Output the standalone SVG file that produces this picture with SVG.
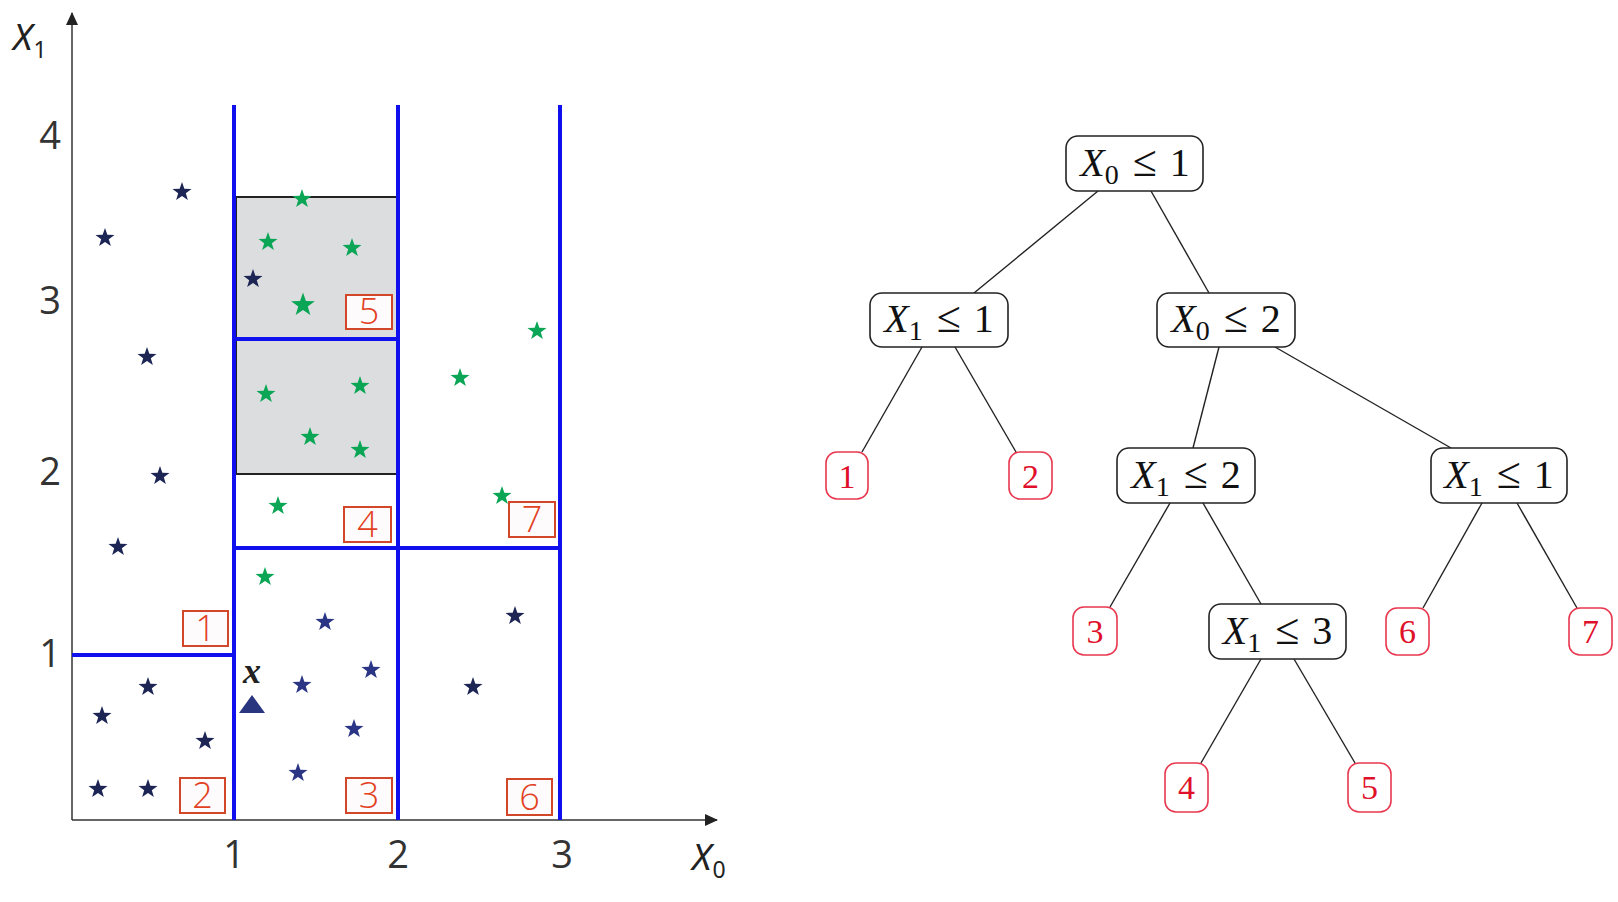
<svg xmlns="http://www.w3.org/2000/svg" xmlns:xlink="http://www.w3.org/1999/xlink" width="1618" height="902" viewBox="0 0 1618 902">
<style>
.axis{stroke:#333;stroke-width:1.5;fill:none}
.tick{font-family:"Open Sans","Noto Sans",sans-serif;font-size:38px;fill:#333;text-anchor:middle}
.alab{font-family:"Noto Sans","DejaVu Sans",sans-serif;fill:#222}
.split{stroke:#1010ee;stroke-width:4;fill:none}
.rbox{fill:#fdfbfb;stroke:#d2472a;stroke-width:2}
.rnum{font-family:"Open Sans","Noto Sans",sans-serif;font-weight:300;font-size:36px;fill:#e2401f;text-anchor:middle}
.navy{fill:#1c2554}
.navy2{fill:#2a3585}
.green{fill:#0aa656}
.inode{fill:#fff;stroke:#222;stroke-width:1.6}
.leaf{fill:#fff;stroke:#e8384f;stroke-width:1.6}
.itxt{font-family:"Liberation Serif","DejaVu Serif",serif;font-size:40px;fill:#111;text-anchor:middle}
.ltxt{font-family:"Liberation Serif","DejaVu Serif",serif;font-size:34px;fill:#e0102a;text-anchor:middle}
.edge{stroke:#222;stroke-width:1.4;fill:none}
</style>
<defs>
<path id="star" d="M0,-10 L2.35,-3.24 L9.51,-3.09 L3.80,1.24 L5.88,8.09 L0,4 L-5.88,8.09 L-3.80,1.24 L-9.51,-3.09 L-2.35,-3.24 Z"/>
<marker id="ah" markerWidth="14" markerHeight="12" refX="12" refY="6" orient="auto" markerUnits="userSpaceOnUse">
<path d="M0,0 L13,6 L0,12 Z" fill="#222"/>
</marker>
</defs>
<rect width="1618" height="902" fill="#fff"/>

<g id="plot">
<rect x="236" y="197" width="162" height="277" fill="#dcdddf" stroke="#222" stroke-width="2"/>
<line class="axis" x1="72" y1="820" x2="72" y2="13" marker-end="url(#ah)"/>
<line class="axis" x1="72" y1="820" x2="717" y2="820" marker-end="url(#ah)"/>
<g id="splits">
<line class="split" x1="234" y1="105" x2="234" y2="820"/>
<line class="split" x1="398" y1="105" x2="398" y2="820"/>
<line class="split" x1="560" y1="105" x2="560" y2="820"/>
<line class="split" x1="72" y1="655" x2="234" y2="655"/>
<line class="split" x1="234" y1="548" x2="560" y2="548"/>
<line class="split" x1="234" y1="339" x2="398" y2="339"/>
</g>
<g id="ticks">
<text class="tick" x="50" y="149">4</text>
<text class="tick" x="50" y="314">3</text>
<text class="tick" x="50" y="485">2</text>
<text class="tick" x="50" y="667">1</text>
<text class="tick" x="234" y="868">1</text>
<text class="tick" x="398" y="868">2</text>
<text class="tick" x="562" y="868">3</text>
</g>
<text class="alab" x="13" y="50" font-size="37" font-style="italic">X<tspan font-size="23" font-style="normal" dy="8" dx="1">1</tspan></text>
<text class="alab" x="692" y="870" font-size="37" font-style="italic">X<tspan font-size="23" font-style="normal" dy="8" dx="1">0</tspan></text>

<g id="stars">
<use href="#star" class="navy" x="182" y="192"/>
<use href="#star" class="navy" x="105" y="238"/>
<use href="#star" class="navy" x="147" y="357"/>
<use href="#star" class="navy" x="253" y="279"/>
<use href="#star" class="navy" x="160" y="476"/>
<use href="#star" class="navy" x="118" y="547"/>
<use href="#star" class="navy" x="148" y="687"/>
<use href="#star" class="navy" x="102" y="716"/>
<use href="#star" class="navy" x="205" y="741"/>
<use href="#star" class="navy" x="98" y="789"/>
<use href="#star" class="navy" x="148" y="789"/>
<use href="#star" class="navy" x="515" y="616"/>
<use href="#star" class="navy" x="473" y="687"/>
<use href="#star" class="navy2" x="325" y="622"/>
<use href="#star" class="navy2" x="371" y="670"/>
<use href="#star" class="navy2" x="302" y="685"/>
<use href="#star" class="navy2" x="354" y="729"/>
<use href="#star" class="navy2" x="298" y="773"/>
<use href="#star" class="green" x="302" y="199"/>
<use href="#star" class="green" x="268" y="242"/>
<use href="#star" class="green" x="352" y="248"/>
<use href="#star" class="green" transform="translate(303,305) scale(1.25)"/>
<use href="#star" class="green" x="266" y="394"/>
<use href="#star" class="green" x="360" y="386"/>
<use href="#star" class="green" x="310" y="437"/>
<use href="#star" class="green" x="360" y="450"/>
<use href="#star" class="green" x="278" y="506"/>
<use href="#star" class="green" x="265" y="577"/>
<use href="#star" class="green" x="537" y="331"/>
<use href="#star" class="green" x="460" y="378"/>
<use href="#star" class="green" x="502" y="496"/>
</g>

<g id="query">
<text x="252" y="683" font-family="Liberation Serif,serif" font-size="36" font-weight="bold" font-style="italic" fill="#222" text-anchor="middle">x</text>
<polygon points="252,695 239,713 265,713" fill="#2a3580"/>
</g>

<g id="region-labels">
<rect class="rbox" x="183" y="611" width="45" height="35"/><text class="rnum" x="205.5" y="641">1</text>
<rect class="rbox" x="180" y="778" width="45" height="35"/><text class="rnum" x="202.5" y="808">2</text>
<rect class="rbox" x="346" y="778" width="46" height="35"/><text class="rnum" x="369" y="808">3</text>
<rect class="rbox" x="344" y="507" width="47" height="35"/><text class="rnum" x="367.5" y="537">4</text>
<rect class="rbox" x="346" y="295" width="46" height="34"/><text class="rnum" x="369" y="324">5</text>
<rect class="rbox" x="507" y="779" width="45" height="36"/><text class="rnum" x="529.5" y="810">6</text>
<rect class="rbox" x="509" y="502" width="46" height="35"/><text class="rnum" x="532" y="532">7</text>
</g>
</g>

<g id="edges">
<line class="edge" x1="1098" y1="191" x2="974" y2="293"/>
<line class="edge" x1="1151" y1="191" x2="1209" y2="293"/>
<line class="edge" x1="922" y1="347" x2="862" y2="452"/>
<line class="edge" x1="955" y1="347" x2="1016" y2="452"/>
<line class="edge" x1="1219" y1="347" x2="1193" y2="448"/>
<line class="edge" x1="1275" y1="347" x2="1451" y2="448"/>
<line class="edge" x1="1170" y1="503" x2="1110" y2="607"/>
<line class="edge" x1="1203" y1="503" x2="1261" y2="604"/>
<line class="edge" x1="1261" y1="659" x2="1201" y2="763"/>
<line class="edge" x1="1294" y1="659" x2="1355" y2="763"/>
<line class="edge" x1="1482" y1="503" x2="1423" y2="608"/>
<line class="edge" x1="1517" y1="503" x2="1577" y2="608"/>
</g>

<g id="n-root"><rect class="inode" x="1066" y="136" width="137" height="55" rx="12"/>
<text class="itxt" x="1135" y="176"><tspan font-style="italic">X</tspan><tspan font-size="28" dy="8">0</tspan><tspan dy="-8" dx="14" font-size="44">≤</tspan><tspan dx="13">1</tspan></text></g>
<g id="n-a"><rect class="inode" x="870" y="293" width="138" height="54" rx="12"/>
<text class="itxt" x="939" y="332"><tspan font-style="italic">X</tspan><tspan font-size="28" dy="8">1</tspan><tspan dy="-8" dx="14" font-size="44">≤</tspan><tspan dx="13">1</tspan></text></g>
<g id="n-b"><rect class="inode" x="1157" y="293" width="138" height="54" rx="12"/>
<text class="itxt" x="1226" y="332"><tspan font-style="italic">X</tspan><tspan font-size="28" dy="8">0</tspan><tspan dy="-8" dx="14" font-size="44">≤</tspan><tspan dx="13">2</tspan></text></g>
<g id="n-c"><rect class="inode" x="1117" y="448" width="138" height="55" rx="12"/>
<text class="itxt" x="1186" y="488"><tspan font-style="italic">X</tspan><tspan font-size="28" dy="8">1</tspan><tspan dy="-8" dx="14" font-size="44">≤</tspan><tspan dx="13">2</tspan></text></g>
<g id="n-d"><rect class="inode" x="1431" y="448" width="136" height="55" rx="12"/>
<text class="itxt" x="1499" y="488"><tspan font-style="italic">X</tspan><tspan font-size="28" dy="8">1</tspan><tspan dy="-8" dx="14" font-size="44">≤</tspan><tspan dx="13">1</tspan></text></g>
<g id="n-e"><rect class="inode" x="1209" y="604" width="137" height="55" rx="12"/>
<text class="itxt" x="1277.5" y="644"><tspan font-style="italic">X</tspan><tspan font-size="28" dy="8">1</tspan><tspan dy="-8" dx="14" font-size="44">≤</tspan><tspan dx="13">3</tspan></text></g>

<g id="leaf-1"><rect class="leaf" x="826" y="452" width="42" height="47" rx="11"/><text class="ltxt" x="847" y="488">1</text></g>
<g id="leaf-2"><rect class="leaf" x="1009" y="452" width="43" height="47" rx="11"/><text class="ltxt" x="1030.5" y="488">2</text></g>
<g id="leaf-3"><rect class="leaf" x="1073" y="607" width="44" height="48" rx="11"/><text class="ltxt" x="1095" y="643">3</text></g>
<g id="leaf-4"><rect class="leaf" x="1165" y="763" width="43" height="49" rx="11"/><text class="ltxt" x="1186.5" y="799">4</text></g>
<g id="leaf-5"><rect class="leaf" x="1348" y="763" width="43" height="49" rx="11"/><text class="ltxt" x="1369.5" y="799">5</text></g>
<g id="leaf-6"><rect class="leaf" x="1386" y="608" width="43" height="47" rx="11"/><text class="ltxt" x="1407.5" y="643">6</text></g>
<g id="leaf-7"><rect class="leaf" x="1569" y="608" width="43" height="47" rx="11"/><text class="ltxt" x="1590.5" y="643">7</text></g>
</svg>
